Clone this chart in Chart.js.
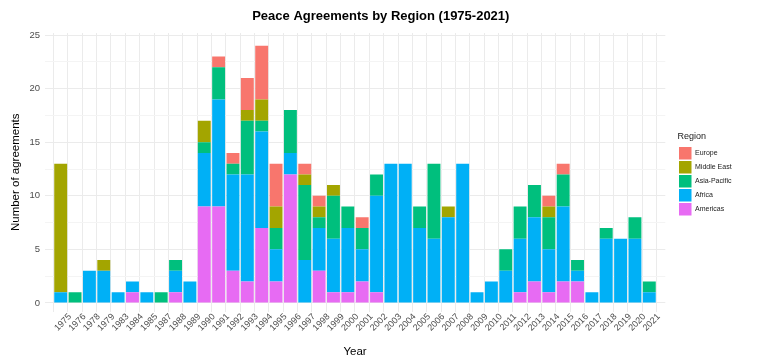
<!DOCTYPE html>
<html>
<head>
<meta charset="utf-8">
<script src="https://cdn.jsdelivr.net/npm/chart.js@4/dist/chart.umd.min.js"></script>
<style>
  html, body { margin: 0; padding: 0; background: #ffffff; }
  #wrap { width: 770px; height: 358px; }
</style>
</head>
<body>
<div id="wrap"><canvas id="c" width="770" height="358"></canvas></div>
<script>
// ---- Data ----
const years = [1975,1976,1978,1979,1983,1984,1985,1987,1988,1989,
               1990,1991,1992,1993,1994,1995,1996,1997,1998,1999,
               2000,2001,2002,2003,2004,2005,2006,2007,2008,2009,
               2010,2011,2012,2013,2014,2015,2016,2017,2018,2019,
               2020,2021];
const americas    = [0,0,0,0,0,1,0,0,1,0, 9,9,3,2,7,2,12,0,3,1, 1,2,1,0,0,0,0,0,0,0, 0,0,1,2,1,2,2,0,0,0, 0,0];
const africa      = [1,0,3,3,1,1,1,0,2,2, 5,10,9,10,9,3,2,4,4,5, 6,3,9,13,13,7,6,8,13,1, 2,3,5,6,4,7,1,1,6,6, 6,1];
const asiaPacific = [0,1,0,0,0,0,0,1,1,0, 1,3,1,5,1,2,4,7,1,4, 2,2,2,0,0,2,7,0,0,0, 0,2,3,3,3,3,1,0,1,0, 2,1];
const middleEast  = [12,0,0,1,0,0,0,0,0,0, 2,0,0,1,2,2,0,1,1,1, 0,0,0,0,0,0,0,1,0,0, 0,0,0,0,1,0,0,0,0,0, 0,0];
const europe      = [0,0,0,0,0,0,0,0,0,0, 0,1,1,3,5,4,0,1,1,0, 0,1,0,0,0,0,0,0,0,0, 0,0,0,0,1,1,0,0,0,0, 0,0];
const regionNames = ["Americas","Africa","Asia-Pacific","Middle East","Europe"];
const yMajorTicks = [0,5,10,15,20,25];
const yMinorTicks = [2.5,7.5,12.5,17.5,22.5];

// ---- Styling ----
const colors = {"Americas":"#E76BF3","Africa":"#00B0F6","Asia-Pacific":"#00BF7D","Middle East":"#A3A500","Europe":"#F8766D"};
const seriesByName = {"Americas":americas,"Africa":africa,"Asia-Pacific":asiaPacific,"Middle East":middleEast,"Europe":europe};

Chart.defaults.font.family = '"Liberation Sans", Arial, sans-serif';

const datasets = regionNames.map(name => ({
  label: name,
  data: seriesByName[name].map((v, i) => ({x: i, y: v})),
  backgroundColor: colors[name],
  borderWidth: 0,
  categoryPercentage: 0.9,
  barPercentage: 1.0
}));

const allYTicks = yMajorTicks.concat(yMinorTicks).sort((a,b)=>a-b);

const legendWidthPlugin = {
  id: 'legendWidth',
  beforeLayout(chart) {
    const lg = chart.legend;
    if (lg && !lg._wPatched) {
      const f = lg.fit;
      lg.fit = function() { f.call(this); this.width = 84.1; };
      lg._wPatched = true;
    }
  }
};

new Chart(document.getElementById('c'), {
  type: 'bar',
  data: { datasets },
  plugins: [legendWidthPlugin],
  options: {
    responsive: false,
    devicePixelRatio: 1,
    animation: false,
    layout: { padding: { top: 0, left: 0, right: 8.4, bottom: 0 } },
    plugins: {
      title: {
        display: true,
        text: 'Peace Agreements by Region (1975-2021)',
        color: '#000',
        font: { size: 13, weight: 'bold' },
        padding: { top: 8.5, bottom: 8.9 }
      },
      legend: {
        position: 'right',
        align: 'center',
        fullSize: false,
        reverse: true,
        title: {
          display: true,
          text: 'Region',
          position: 'start',
          color: '#1a1a1a',
          font: { size: 9 },
          padding: { top: 4.1, bottom: 3.1 }
        },
        labels: {
          boxWidth: 12.5,
          boxHeight: 12.5,
          padding: 1.5,
          color: '#1a1a1a',
          font: { size: 7 }
        }
      },
      tooltip: { enabled: false }
    },
    scales: {
      x: {
        type: 'linear',
        stacked: true,
        min: -0.6,
        max: years.length - 1 + 0.6,
        afterBuildTicks(scale) { scale.ticks = years.map((y, i) => ({ value: i })); },
        afterFit(scale) { scale.height = 46.5; },
        grid: { color: '#ebebeb', lineWidth: 1, drawTicks: false },
        border: { display: false },
        ticks: {
          autoSkip: false,
          minRotation: 45,
          maxRotation: 45,
          labelOffset: 9.4,
          padding: 0,
          color: '#4d4d4d',
          font: { size: 9 },
          callback: (v) => String(years[v])
        },
        title: {
          display: true,
          text: 'Year',
          color: '#000',
          font: { size: 11.5, lineHeight: 1 },
          padding: { top: 0, bottom: 0 }
        }
      },
      y: {
        stacked: true,
        min: -0.8,
        max: 25.2,
        afterBuildTicks(scale) { scale.ticks = allYTicks.map(v => ({ value: v })); },
        afterFit(scale) { scale.width = 44.7; },
        grid: {
          drawTicks: false,
          color: (ctx) => (ctx.tick && yMajorTicks.includes(ctx.tick.value)) ? '#ebebeb' : '#f4f4f4',
          lineWidth: 1
        },
        border: { display: false },
        ticks: {
          padding: 4.7,
          color: '#4d4d4d',
          font: { size: 9.5 },
          callback: (v) => yMajorTicks.includes(v) ? String(v) : ''
        },
        title: {
          display: true,
          text: 'Number of agreements',
          color: '#000',
          font: { size: 11.5, lineHeight: 1 },
          padding: { top: 9.75, bottom: 0 }
        }
      },
      spacer: {
        type: 'linear',
        position: 'right',
        display: true,
        grid: { display: false, drawTicks: false },
        border: { display: false },
        ticks: { display: false },
        afterFit(scale) { scale.width = 12.2; }
      }
    }
  }
});
</script>
</body>
</html>
